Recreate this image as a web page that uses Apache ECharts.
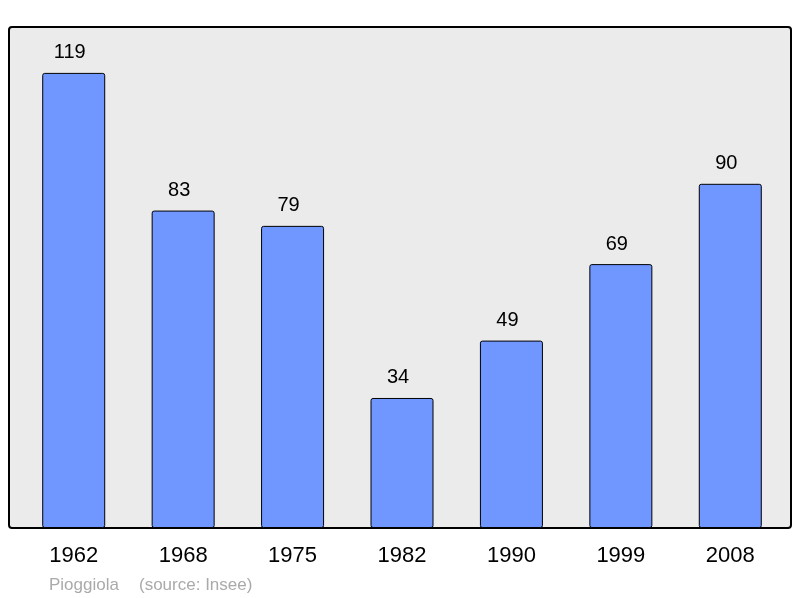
<!DOCTYPE html>
<html>
<head>
<meta charset="utf-8">
<script src="https://cdn.jsdelivr.net/npm/echarts@6/dist/echarts.min.js"></script>
<style>
html, body {margin: 0; padding: 0; background: #fff;}
#chart {width: 800px; height: 598px;}
</style>
</head>
<body>
<div id="chart"></div>
<script>
// population par recensement
var years = ['1962', '1968', '1975', '1982', '1990', '1999', '2008'];
var population = [119, 83, 79, 34, 49, 69, 90];
var commune = 'Pioggiola';
var source = '(source: Insee)';

var chart = echarts.init(document.getElementById('chart'));

var option = {
    backgroundColor: '#fff',
    animation: false,
    textStyle: {fontFamily: 'Liberation Sans, Arial, sans-serif'},
    graphic: [
        {
            type: 'rect',
            z: -10,
            shape: {x: 9, y: 27, width: 782, height: 501, r: 3},
            style: {fill: '#ebebeb', stroke: '#000', lineWidth: 2}
        },
        {
            type: 'text',
            left: 49, top: 577,
            style: {text: commune, fill: '#aaaaaa', font: '17px Liberation Sans, Arial, sans-serif'}
        },
        {
            type: 'text',
            left: 139, top: 577,
            style: {text: source, fill: '#aaaaaa', font: '17px Liberation Sans, Arial, sans-serif'}
        }
    ],
    grid: {left: 19, right: 15, top: 27, bottom: 70, containLabel: false},
    xAxis: {
        type: 'category',
        data: years,
        axisLine: {show: false},
        axisTick: {show: false},
        axisLabel: {color: '#000', fontSize: 22, margin: 17}
    },
    yAxis: {
        type: 'value',
        min: 0,
        max: 131,
        show: false,
        splitLine: {show: false}
    },
    series: [{
        type: 'bar',
        data: population,
        barWidth: 63,
        itemStyle: {color: '#7096ff', borderColor: '#000', borderWidth: 1, borderRadius: 2},
        label: {show: true, position: 'top', distance: 10, offset: [-4, 0], color: '#000', fontSize: 20}
    }]
};

chart.setOption(option);
</script>
</body>
</html>
